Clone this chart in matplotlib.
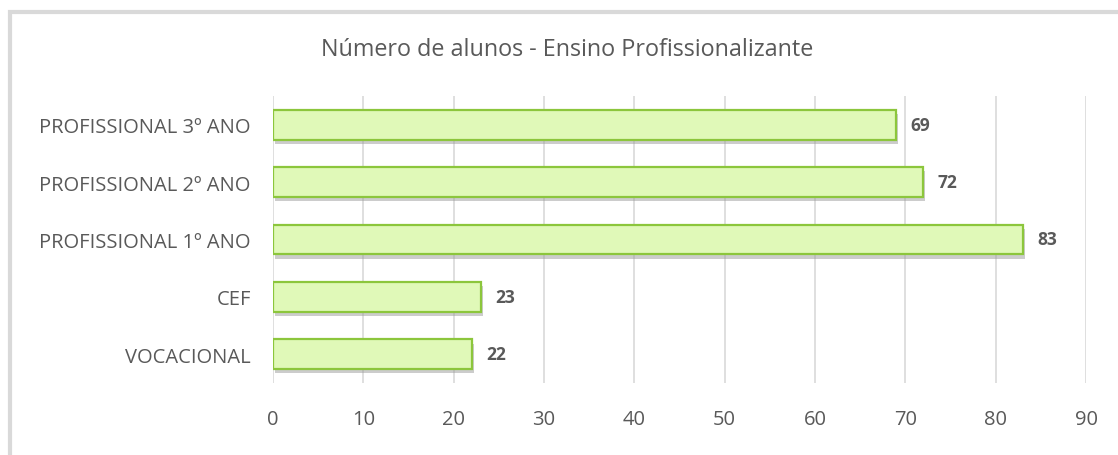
import matplotlib
matplotlib.use('Agg')
import matplotlib.pyplot as plt
import matplotlib.patheffects as pe
from matplotlib.patches import Rectangle

categories = ['VOCACIONAL', 'CEF', 'PROFISSIONAL 1º ANO', 'PROFISSIONAL 2º ANO', 'PROFISSIONAL 3º ANO']
values = [22, 23, 83, 72, 69]
xticks = list(range(0, 100, 10))

plt.rcParams['font.family'] = ['Open Sans', 'DejaVu Sans']
grey = '#595959'

fig = plt.figure(figsize=(11.18, 4.56), dpi=100)
ax = fig.add_axes([273 / 1118, 1 - 384 / 456, (1086 - 273) / 1118, (384 - 97) / 456])

# chart frame (cut off at right and bottom like the reference)
fig.patches.append(Rectangle((10 / 1118, -0.05), 1.1, 1 - 13 / 456 + 0.05,
                             transform=fig.transFigure, fill=False,
                             edgecolor='#d9d9d9', lw=3, zorder=0))

bars = ax.barh(range(len(categories)), values, height=0.52, color='#e0f9b8',
               edgecolor='#8cc63c', linewidth=1.6, zorder=3)
for b in bars:
    b.set_path_effects([pe.SimplePatchShadow(offset=(1.5, -3), shadow_rgbFace='#9a9a9a', alpha=0.5),
                        pe.Normal()])

for i, v in enumerate(values):
    ax.text(v + 1.6, i, str(v), va='center', ha='left', fontsize=12.5,
            fontweight='bold', color=grey)

ax.set_xlim(0, 90)
ax.set_ylim(-0.5, len(categories) - 0.5)
ax.set_xticks(xticks)
ax.set_yticks(range(len(categories)))
ax.set_yticklabels(categories)
ax.tick_params(axis='both', length=0, labelsize=14.5, labelcolor=grey)
ax.tick_params(axis='x', pad=19)
ax.tick_params(axis='y', pad=16)
ax.grid(axis='x', color='#d9d9d9', lw=1.2, zorder=0)
ax.set_axisbelow(True)
for s in ax.spines.values():
    s.set_visible(False)

fig.text(567 / 1118, 1 - 50 / 456, 'Número de alunos - Ensino Profissionalizante',
         ha='center', va='center', fontsize=16.8, color=grey)

fig.savefig('out.png', dpi=100)
